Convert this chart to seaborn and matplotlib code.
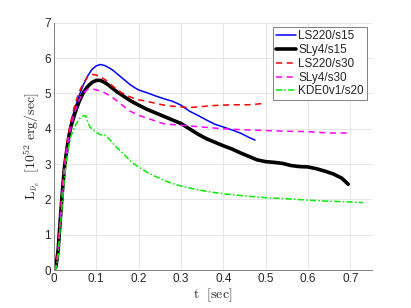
import matplotlib
matplotlib.use('Agg')
import matplotlib.pyplot as plt
import seaborn as sns

# luminosity curves (t in sec, L in 1e52 erg/sec)
t_ls220_s15 = [0, 0.005, 0.01, 0.015, 0.02, 0.025, 0.03, 0.035, 0.04, 0.05, 0.06, 0.07, 0.08, 0.09,
               0.1, 0.11, 0.12, 0.13, 0.14, 0.15, 0.16, 0.17, 0.18, 0.19, 0.2, 0.22, 0.24, 0.26,
               0.28, 0.3, 0.32, 0.34, 0.36, 0.38, 0.4, 0.42, 0.44, 0.46, 0.475]
L_ls220_s15 = [0, 0.1, 0.6, 1.5, 2.3, 3.0, 3.45, 3.85, 4.15, 4.6, 4.95, 5.25, 5.5, 5.68,
               5.78, 5.82, 5.79, 5.73, 5.65, 5.55, 5.45, 5.35, 5.25, 5.17, 5.1, 5.02, 4.93, 4.85,
               4.78, 4.67, 4.5, 4.38, 4.25, 4.13, 4.05, 3.97, 3.88, 3.76, 3.68]

t_sly4_s15 = [0, 0.005, 0.01, 0.015, 0.02, 0.025, 0.03, 0.035, 0.04, 0.05, 0.06, 0.07, 0.08, 0.09,
              0.1, 0.11, 0.12, 0.13, 0.14, 0.15, 0.16, 0.17, 0.18, 0.2, 0.22, 0.24, 0.26, 0.28,
              0.3, 0.32, 0.34, 0.36, 0.38, 0.4, 0.42, 0.44, 0.46, 0.48, 0.5, 0.52, 0.54, 0.56,
              0.58, 0.6, 0.62, 0.64, 0.66, 0.68, 0.695]
L_sly4_s15 = [0, 0.1, 0.55, 1.4, 2.2, 2.9, 3.35, 3.75, 4.05, 4.45, 4.78, 5.03, 5.2, 5.31,
              5.37, 5.37, 5.31, 5.23, 5.13, 5.04, 4.96, 4.88, 4.8, 4.67, 4.55, 4.45, 4.35, 4.25,
              4.15, 4.0, 3.85, 3.72, 3.62, 3.52, 3.43, 3.32, 3.22, 3.12, 3.07, 3.05, 3.02, 2.96,
              2.93, 2.92, 2.87, 2.8, 2.72, 2.6, 2.43]

t_ls220_s30 = [0, 0.005, 0.01, 0.015, 0.02, 0.025, 0.03, 0.035, 0.04, 0.05, 0.06, 0.07, 0.08, 0.09,
               0.1, 0.11, 0.12, 0.13, 0.14, 0.15, 0.16, 0.18, 0.2, 0.22, 0.24, 0.26, 0.28, 0.3,
               0.32, 0.34, 0.36, 0.38, 0.4, 0.42, 0.44, 0.46, 0.48, 0.5]
L_ls220_s30 = [0, 0.1, 0.6, 1.5, 2.3, 3.05, 3.5, 3.9, 4.2, 4.7, 5.05, 5.3, 5.47, 5.54,
               5.52, 5.47, 5.4, 5.3, 5.2, 5.1, 5.02, 4.9, 4.82, 4.78, 4.72, 4.67, 4.64, 4.62,
               4.6, 4.62, 4.64, 4.66, 4.67, 4.68, 4.68, 4.68, 4.7, 4.72]

t_sly4_s30 = [0, 0.005, 0.01, 0.015, 0.02, 0.025, 0.03, 0.035, 0.04, 0.05, 0.06, 0.07, 0.08, 0.09,
              0.1, 0.11, 0.12, 0.13, 0.14, 0.15, 0.16, 0.18, 0.2, 0.22, 0.24, 0.26, 0.28, 0.3,
              0.32, 0.34, 0.36, 0.4, 0.45, 0.5, 0.55, 0.6, 0.65, 0.68, 0.7]
L_sly4_s30 = [0, 0.08, 0.5, 1.4, 2.2, 2.9, 3.35, 3.75, 4.05, 4.5, 4.82, 5.02, 5.12, 5.13,
              5.1, 5.07, 5.02, 4.95, 4.87, 4.78, 4.68, 4.5, 4.38, 4.3, 4.22, 4.14, 4.12, 4.1,
              4.08, 4.06, 4.04, 4.0, 3.97, 3.95, 3.93, 3.92, 3.88, 3.88, 3.88]

t_kde0v1_s20 = [0, 0.005, 0.01, 0.015, 0.02, 0.025, 0.03, 0.035, 0.04, 0.05, 0.06, 0.07, 0.075,
                0.08, 0.085, 0.09, 0.1, 0.11, 0.12, 0.13, 0.14, 0.15, 0.16, 0.17, 0.18, 0.19,
                0.2, 0.22, 0.24, 0.26, 0.28, 0.3, 0.33, 0.36, 0.4, 0.45, 0.5, 0.55, 0.6, 0.65,
                0.7, 0.73]
L_kde0v1_s20 = [0, 0.05, 0.4, 1.2, 1.9, 2.6, 3.1, 3.5, 3.78, 4.08, 4.28, 4.37, 4.37,
                4.2, 4.05, 4.0, 3.9, 3.83, 3.83, 3.72, 3.58, 3.45, 3.35, 3.22, 3.1, 3.0,
                2.92, 2.77, 2.65, 2.54, 2.45, 2.38, 2.3, 2.23, 2.16, 2.1, 2.05, 2.02, 1.98, 1.95,
                1.93, 1.91]

series = [
    ('LS220/s15', t_ls220_s15, L_ls220_s15, '#0000ff', '-', 1.1),
    ('SLy4/s15', t_sly4_s15, L_sly4_s15, '#000000', '-', 2.6),
    ('LS220/s30', t_ls220_s30, L_ls220_s30, '#ff0000', (0, (4, 3)), 1.1),
    ('SLy4/s30', t_sly4_s30, L_sly4_s30, '#ff00ff', (0, (4, 3)), 1.1),
    ('KDE0v1/s20', t_kde0v1_s20, L_kde0v1_s20, '#00ee00', (0, (4, 1.5, 1, 1.5)), 1.1),
]

sns.set_style('white')
plt.rcParams['font.family'] = ['Liberation Sans', 'DejaVu Sans']
plt.rcParams['mathtext.fontset'] = 'cm'

fig = plt.figure(figsize=(4.11, 3.08), dpi=100)
ax = fig.add_axes([0.131, 0.123, 0.773, 0.803])

for label, t, L, color, ls, lw in series:
    sns.lineplot(x=t, y=L, ax=ax, color=color, linestyle=ls, linewidth=lw, label=label)

ax.set_xlim(0, 0.75)
ax.set_ylim(0, 7)
ax.set_xticks([0, 0.1, 0.2, 0.3, 0.4, 0.5, 0.6, 0.7])
ax.set_xticklabels(['0', '0.1', '0.2', '0.3', '0.4', '0.5', '0.6', '0.7'])
ax.set_yticks(range(8))
ax.grid(True, color='#e6e6e6', linewidth=0.7)
ax.set_axisbelow(True)
ax.tick_params(direction='in', length=3, width=0.6, colors='#777777', labelcolor='#262626',
               labelsize=8.5, pad=2)
for side in ['top', 'right']:
    ax.spines[side].set_visible(False)
for side in ['left', 'bottom']:
    ax.spines[side].set_color('#808080')
    ax.spines[side].set_linewidth(0.7)

ax.set_xlabel(r'$\mathrm{t}\ \ \mathrm{[sec]}$', fontsize=10, labelpad=1)
ax.set_ylabel(r'$\mathrm{L}_{\bar{\nu}_e}\ \ [10^{52}\ \mathrm{erg/sec}]$', fontsize=10, labelpad=2)

leg = ax.legend(loc='upper right', bbox_to_anchor=(0.892, 0.911), bbox_transform=fig.transFigure,
                borderaxespad=0, fontsize=8.5, handlelength=1.7, handletextpad=0.15,
                labelspacing=0.15, borderpad=0.25, fancybox=False, framealpha=1)
leg.get_frame().set_edgecolor('#808080')
leg.get_frame().set_linewidth(0.7)

fig.savefig('out.png', dpi=100)
